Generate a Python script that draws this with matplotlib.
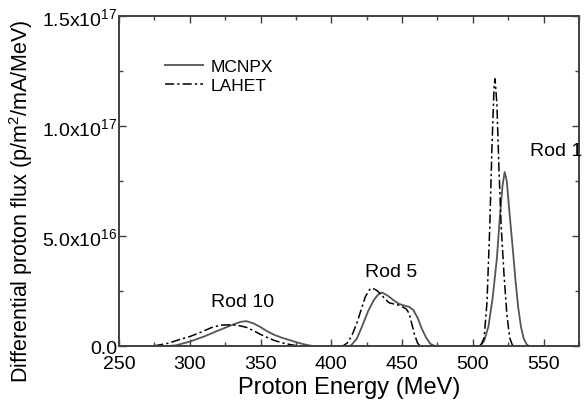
import matplotlib
matplotlib.use("Agg")
import matplotlib.pyplot as plt
from matplotlib.ticker import MultipleLocator, FuncFormatter

plt.rcParams["font.family"] = ["Liberation Sans", "DejaVu Sans"]
plt.rcParams["mathtext.fontset"] = "custom"
plt.rcParams["mathtext.rm"] = "Liberation Sans"
plt.rcParams["mathtext.it"] = "Liberation Sans:italic"

# proton energy (MeV) and flux (units of 1e16 p/m^2/mA/MeV)
mcnpx_energy = [250, 280, 290, 300, 310, 320, 330, 336, 340, 345, 350, 355, 360,
                365, 370, 375, 380, 385, 390,
                410, 414, 418, 422, 426, 430, 433, 436, 440, 444, 448, 452, 455,
                458, 461, 464, 467, 470, 474,
                502, 505, 508, 511, 514, 517, 519, 521, 522.5, 524, 526, 528,
                530, 532, 534, 536, 538, 540, 575]
mcnpx_flux = [0, 0, 0.05, 0.22, 0.45, 0.72, 0.98, 1.12, 1.15, 1.05, 0.88, 0.68, 0.52,
              0.40, 0.30, 0.20, 0.11, 0.04, 0,
              0, 0.05, 0.35, 0.95, 1.6, 2.1, 2.35, 2.45, 2.3, 2.1, 1.93, 1.85, 1.8,
              1.65, 1.3, 0.8, 0.4, 0.12, 0,
              0, 0.02, 0.25, 0.9, 2.2, 4.0, 5.8, 7.3, 7.92, 7.5, 6.0, 4.6,
              3.1, 1.8, 0.9, 0.35, 0.1, 0, 0]

lahet_energy = [250, 265, 275, 285, 292, 300, 308, 315, 322, 330, 336, 340, 345,
                350, 355, 360, 365, 370, 375, 380, 385,
                405, 409, 412, 415, 418, 421, 424, 427, 429, 432, 435, 438, 441,
                445, 449, 453, 455, 457, 459, 461, 463,
                503, 506, 508, 510, 512, 513.5, 515, 515.7, 517, 518.5, 520, 522,
                524, 526, 528, 530, 575]
lahet_flux = [0, 0, 0.03, 0.15, 0.30, 0.45, 0.65, 0.85, 0.97, 0.99, 0.93, 0.87, 0.72,
              0.55, 0.40, 0.27, 0.17, 0.10, 0.04, 0.01, 0,
              0, 0.05, 0.2, 0.57, 1.05, 1.65, 2.25, 2.58, 2.65, 2.55, 2.38, 2.15, 1.98,
              1.92, 1.85, 1.7, 1.5, 1.0, 0.5, 0.15, 0,
              0, 0.1, 0.4, 2.0, 5.5, 9.0, 11.8, 12.15, 11.0, 8.0, 5.5, 3.3,
              1.5, 0.4, 0.05, 0, 0]

rod_labels = ["Rod 10", "Rod 5", "Rod 1"]
rod_label_x = [337, 442, 559]
rod_label_y = [2.05, 3.4, 8.9]

scale = 1e16

fig = plt.figure(figsize=(5.85, 4.02), dpi=100)
ax = fig.add_axes([0.2034, 0.1356, 0.7863, 0.8221])

ax.plot(mcnpx_energy, [v * scale for v in mcnpx_flux], color="#555555",
        lw=1.3, label="MCNPX")
ax.plot(lahet_energy, [v * scale for v in lahet_flux], color="black",
        lw=1.1, dashes=(6, 2, 1.5, 2), label="LAHET")

for txt, tx, ty in zip(rod_labels, rod_label_x, rod_label_y):
    ax.text(tx, ty * scale, txt, ha="center", va="center", fontsize=14)

ax.set_xlim(250, 575)
ax.set_ylim(0, 1.5e17)
ax.xaxis.set_major_locator(MultipleLocator(50))
ax.xaxis.set_minor_locator(MultipleLocator(25))
ax.yaxis.set_major_locator(MultipleLocator(5e16))
ax.yaxis.set_minor_locator(MultipleLocator(2.5e16))


def sci_fmt(v, pos):
    if v == 0:
        return "0.0"
    exp = 0
    m = v
    while m >= 10:
        m /= 10
        exp += 1
    return r"$\mathregular{%.1fx10^{%d}}$" % (m, exp)


ax.yaxis.set_major_formatter(FuncFormatter(sci_fmt))

for s in ax.spines.values():
    s.set_color("#404040")
    s.set_linewidth(1.4)
ax.tick_params(which="both", direction="in", top=True, right=True,
               color="#404040", width=1.0, labelsize=14)
ax.tick_params(axis="x", pad=6)
ax.tick_params(axis="y", pad=1)
ax.tick_params(which="major", length=5)
ax.tick_params(which="minor", length=3)

ax.set_xlabel("Proton Energy (MeV)", fontsize=17, labelpad=3)
ax.set_ylabel(r"Differential proton flux (p/m$^\mathregular{2}$/mA/MeV)",
              fontsize=15.5)
ax.yaxis.set_label_coords(-0.183, 0.443)

ax.legend(loc="upper left", bbox_to_anchor=(0.10, 0.87), frameon=False,
          fontsize=12.5, handlelength=2.2, handletextpad=0.45,
          labelspacing=0.2, borderpad=0, borderaxespad=0)

fig.savefig("out.png", dpi=100)
